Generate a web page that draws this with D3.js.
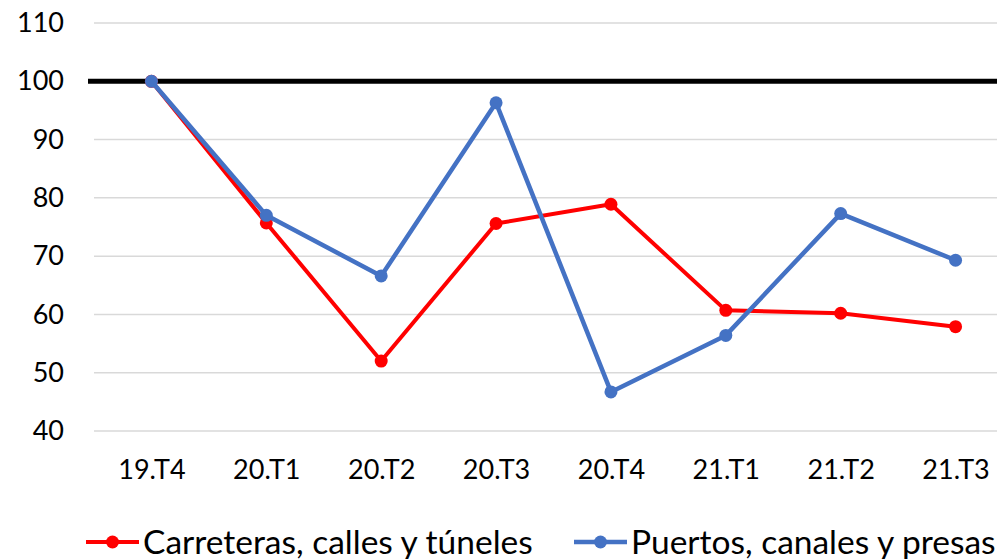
<!DOCTYPE html>
<html>
<head>
<meta charset="utf-8">
<script src="https://cdn.jsdelivr.net/npm/d3@7"></script>
<style>
  body { margin: 0; background: #fff; }
  svg { display: block; font-family: Lato, "Open Sans", sans-serif; }
</style>
</head>
<body>
<div id="chart"></div>
<script>
// quarters and the two indices (base 19.T4 = 100)
const quarters = ["19.T4", "20.T1", "20.T2", "20.T3", "20.T4", "21.T1", "21.T2", "21.T3"];
const carreteras = [100, 75.7, 52.0, 75.6, 78.9, 60.7, 60.2, 57.9];
const puertos = [100, 77.0, 66.6, 96.3, 46.7, 56.4, 77.3, 69.3];
const yTicks = [40, 50, 60, 70, 80, 90, 100, 110];
const baseLine = 100;

const series = [
  { name: "Carreteras, calles y túneles", values: carreteras, color: "#ff0000", width: 4 },
  { name: "Puertos, canales y presas", values: puertos, color: "#4472c4", width: 4.5 }
];

const width = 997, height = 559;
const margin = { top: 23, right: -16, bottom: 128, left: 94 };

const svg = d3.select("#chart").append("svg")
  .attr("width", width)
  .attr("height", height);

const x = d3.scalePoint()
  .domain(quarters)
  .range([margin.left, width - margin.right])
  .padding(0.5);

const y = d3.scaleLinear()
  .domain([40, 110])
  .range([height - margin.bottom, margin.top]);

// gridlines
svg.append("g")
  .selectAll("line")
  .data(yTicks)
  .join("line")
  .attr("x1", margin.left)
  .attr("x2", width)
  .attr("y1", d => y(d))
  .attr("y2", d => y(d))
  .attr("stroke", "#d9d9d9")
  .attr("stroke-width", 1.5);

// y labels
const yAxis = d3.axisLeft(y).tickValues(yTicks).tickSize(0).tickPadding(0);
svg.append("g")
  .attr("transform", `translate(${margin.left - 30},0)`)
  .call(yAxis)
  .call(g => g.select(".domain").remove())
  .selectAll("text")
  .attr("font-size", 27)
  .attr("font-family", "Lato, sans-serif")
  .attr("fill", "#000");

// x labels
const xAxis = d3.axisBottom(x).tickSize(0).tickPadding(0);
svg.append("g")
  .attr("transform", `translate(0,${y(40) + 29})`)
  .call(xAxis)
  .call(g => g.select(".domain").remove())
  .selectAll("text")
  .attr("font-size", 27)
  .attr("font-family", "Lato, sans-serif")
  .attr("fill", "#000");

// base line at 100
svg.append("line")
  .attr("x1", margin.left - 6)
  .attr("x2", width)
  .attr("y1", y(baseLine))
  .attr("y2", y(baseLine))
  .attr("stroke", "#000")
  .attr("stroke-width", 5);

const line = d3.line()
  .x((d, i) => x(quarters[i]))
  .y(d => y(d));

series.forEach(s => {
  const g = svg.append("g");
  g.append("path")
    .datum(s.values)
    .attr("d", line)
    .attr("fill", "none")
    .attr("stroke", s.color)
    .attr("stroke-width", s.width)
    .attr("stroke-linejoin", "round");
  g.selectAll("circle")
    .data(s.values)
    .join("circle")
    .attr("cx", (d, i) => x(quarters[i]))
    .attr("cy", d => y(d))
    .attr("r", 6.5)
    .attr("fill", s.color);
});

// legend
const legendX = [86, 574];
const legendY = 542;
const legend = svg.append("g").selectAll("g")
  .data(series)
  .join("g")
  .attr("transform", (d, i) => `translate(${legendX[i]},${legendY})`);

legend.append("line")
  .attr("x1", 0).attr("x2", 53)
  .attr("stroke", d => d.color)
  .attr("stroke-width", d => d.width);
legend.append("circle")
  .attr("cx", 26.5)
  .attr("r", 6.5)
  .attr("fill", d => d.color);
legend.append("text")
  .attr("x", 57)
  .attr("dy", "0.35em")
  .attr("font-size", 33.5)
  .attr("fill", "#000")
  .text(d => d.name);
</script>
</body>
</html>
